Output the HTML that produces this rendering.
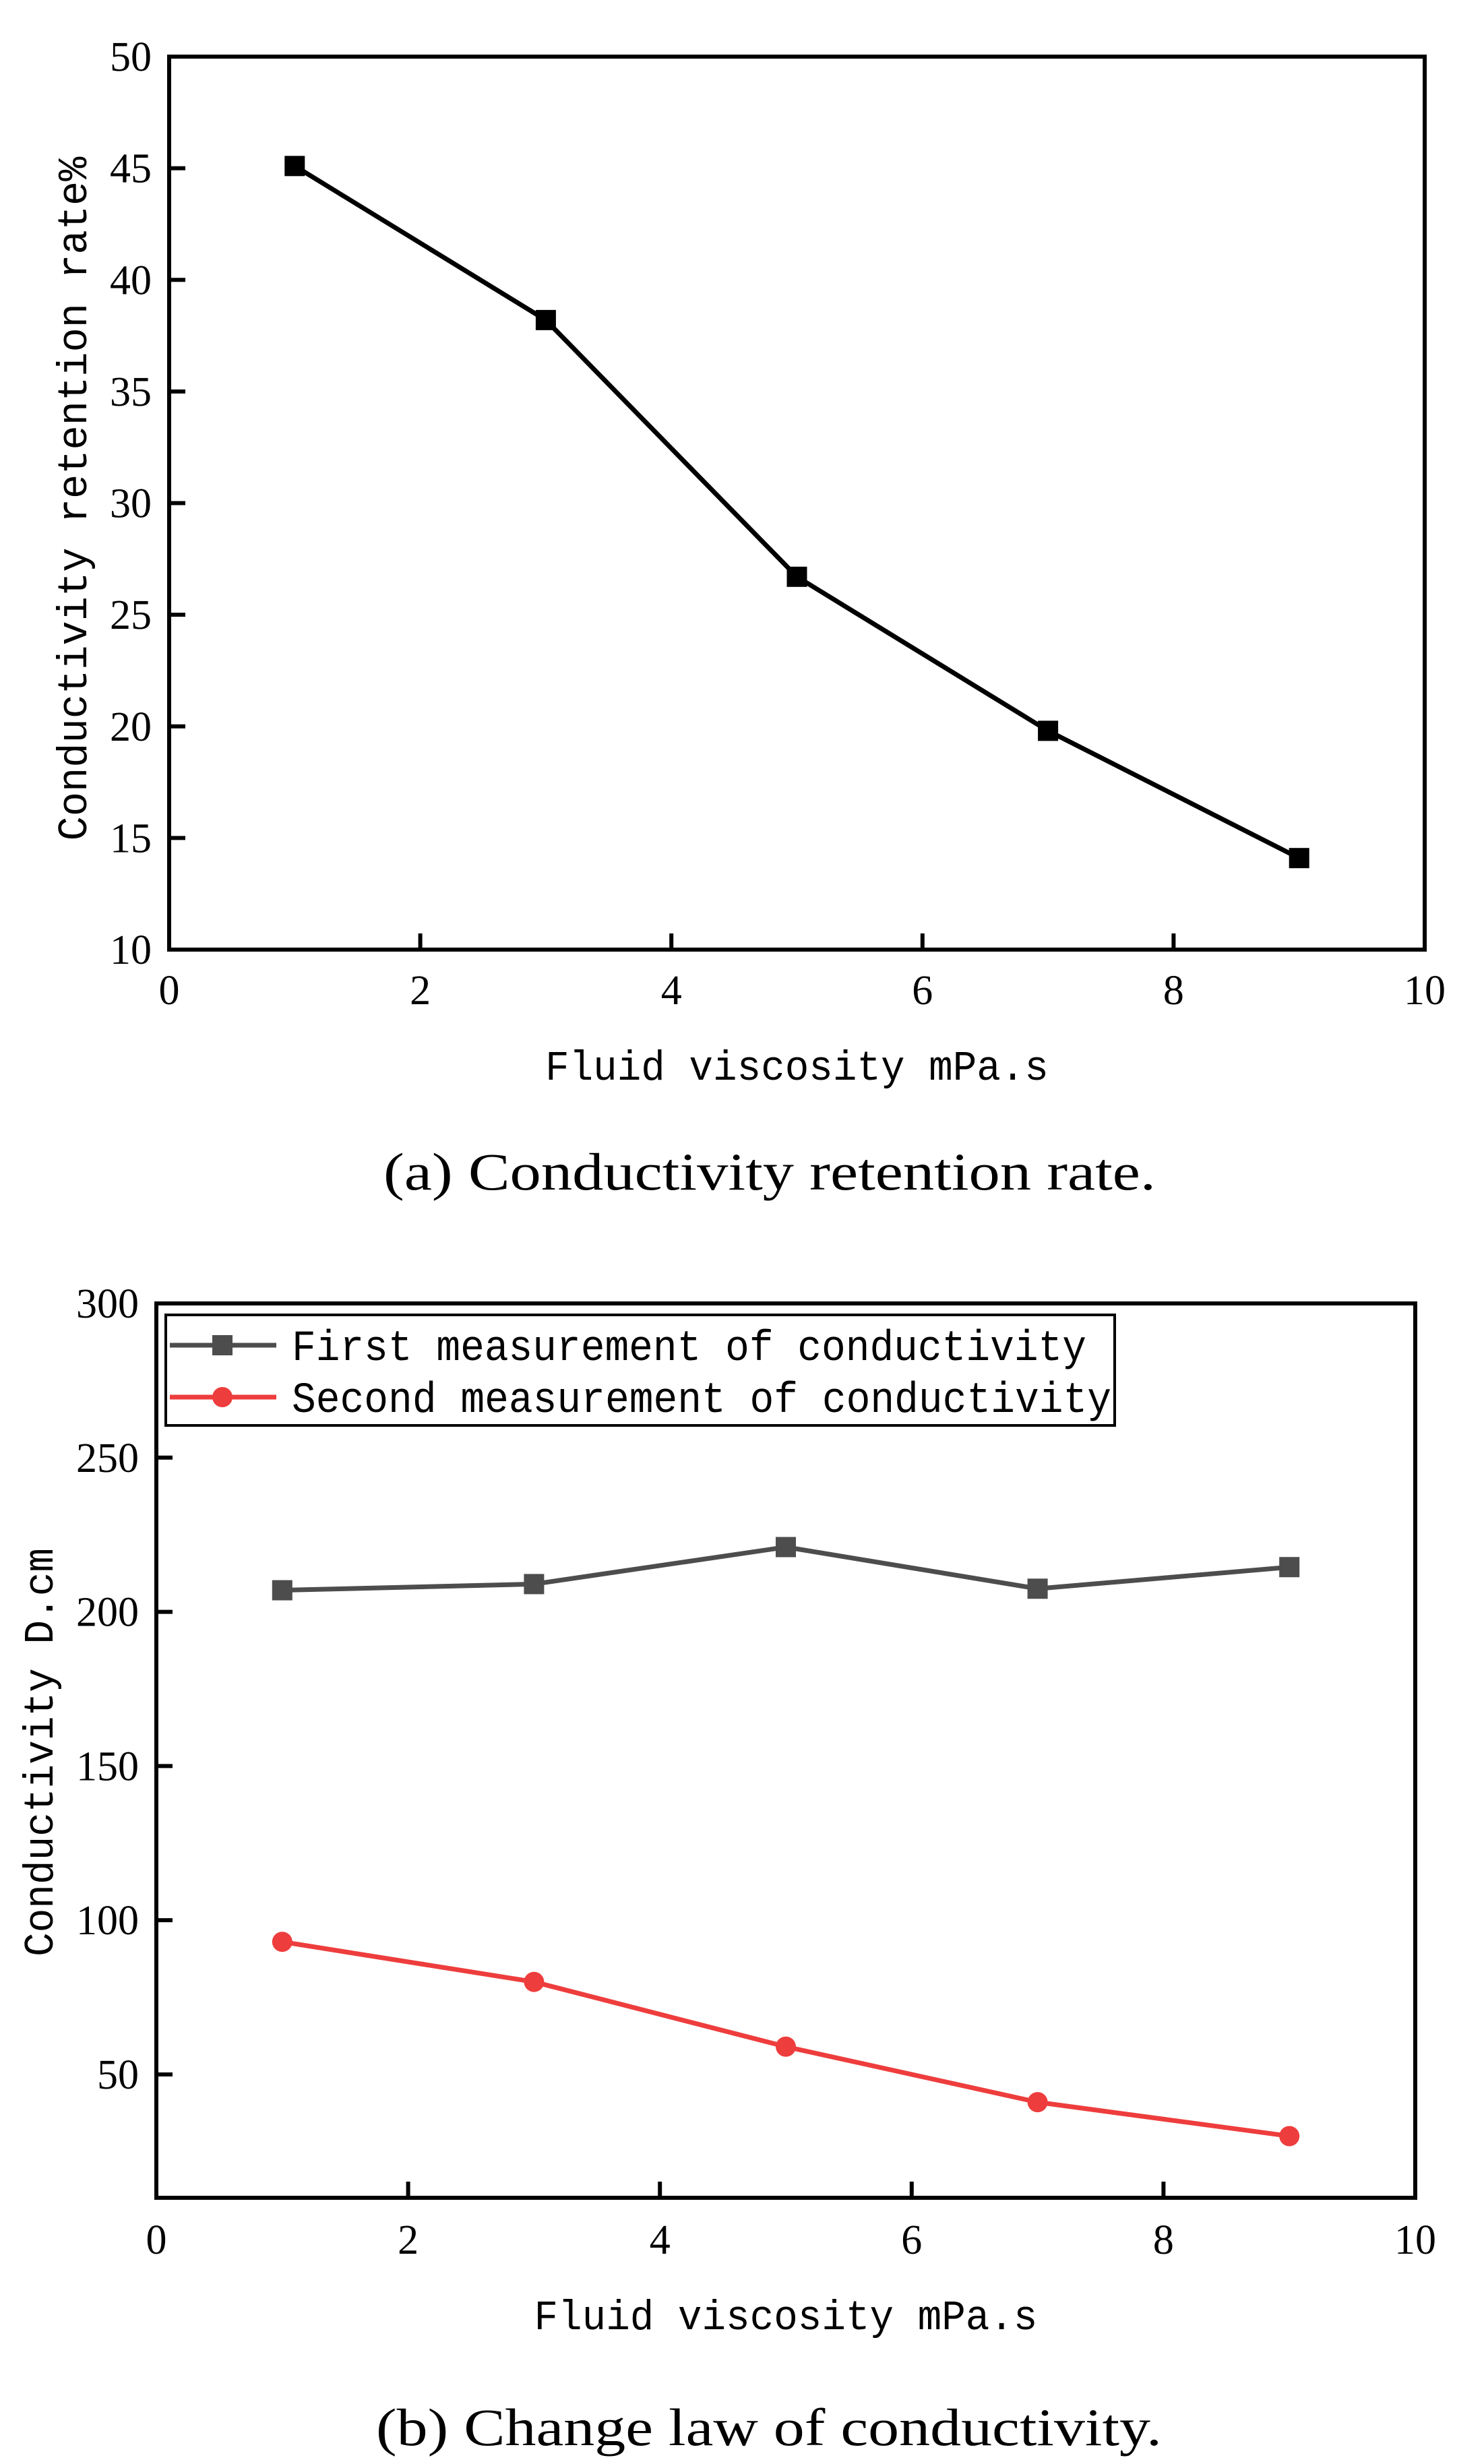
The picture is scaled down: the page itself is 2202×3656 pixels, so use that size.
<!DOCTYPE html>
<html><head><meta charset="utf-8"><style>
html,body{margin:0;padding:0;background:#fff;}
svg{display:block;}
.tk{font-family:"Liberation Serif",serif;font-size:62px;fill:#000;}
.mono{font-family:"Liberation Mono",monospace;fill:#000;}
.cap{font-family:"Liberation Serif",serif;font-size:78px;fill:#000;}
</style></head><body>
<svg id="fig" width="2202" height="3656" viewBox="0 0 2202 3656" xmlns="http://www.w3.org/2000/svg">
<rect width="2202" height="3656" fill="#fff"/>
<g id="chartA"></g>
<g id="chartB"></g>
<text class="cap" x="1142" y="1765" text-anchor="middle" textLength="1146" lengthAdjust="spacingAndGlyphs">(a) Conductivity retention rate.</text>
<text class="cap" x="1141" y="3628" text-anchor="middle" textLength="1166" lengthAdjust="spacingAndGlyphs">(b) Change law of conductivity.</text>
</svg>
<script>
const xValues = [1, 3, 5, 7, 9];
const retentionRate = [45.1, 38.2, 26.7, 19.8, 14.1];
const firstMeasurement = [207, 209, 221, 207.5, 214.5];
const secondMeasurement = [93, 80, 59, 41, 30];
const xTicks = [0, 2, 4, 6, 8, 10];
const yTicksA = [10, 15, 20, 25, 30, 35, 40, 45, 50];
const yTicksB = [50, 100, 150, 200, 250, 300];

const NS = "http://www.w3.org/2000/svg";
function mk(parent, tag, attrs, text) {
  const e = document.createElementNS(NS, tag);
  for (const k in attrs) e.setAttribute(k, attrs[k]);
  if (text !== undefined) e.textContent = text;
  parent.appendChild(e);
  return e;
}

function drawChart(g, box, xDom, yDom, yTicks, yTitle, yTitleBox, xTitleY, tickLabelY, series) {
  const sx = v => box.l + (v - xDom[0]) / (xDom[1] - xDom[0]) * (box.r - box.l);
  const sy = v => box.b - (v - yDom[0]) / (yDom[1] - yDom[0]) * (box.b - box.t);
  xTicks.forEach(t => {
    const x = sx(t);
    if (t !== xDom[0] && t !== xDom[1]) {
      const tk = mk(g, 'line', {x1: x, y1: box.b, x2: x, y2: box.b - 24, stroke: '#000', 'stroke-width': 6});
      
      
    }
    const lb = mk(g, 'text', {class: 'tk', x: x, y: tickLabelY, 'text-anchor': 'middle'}, String(t));
    
    
  });
  yTicks.forEach(t => {
    const y = sy(t);
    if (t !== yDom[0] && t !== yDom[1]) {
      const tk = mk(g, 'line', {x1: box.l, y1: y, x2: box.l + 24, y2: y, stroke: '#000', 'stroke-width': 6});
      
      
    }
    const lb = mk(g, 'text', {class: 'tk', x: box.l - 26, y: y + 21, 'text-anchor': 'end'}, String(t));
    
    
  });
  const frame = mk(g, 'rect', {x: box.l, y: box.t, width: box.r - box.l, height: box.b - box.t, fill: 'none', stroke: '#000', 'stroke-width': 6});
  
  
  const xt = mk(g, 'text', {class: 'mono', x: (box.l + box.r) / 2, y: xTitleY, 'text-anchor': 'middle', 'font-size': 62, textLength: 747, lengthAdjust: 'spacingAndGlyphs'}, 'Fluid viscosity mPa.s');
  
  
  const yt = mk(g, 'text', {class: 'mono', x: 0, y: 0, 'text-anchor': 'middle', 'font-size': 62, textLength: yTitleBox.len, lengthAdjust: 'spacingAndGlyphs', transform: `translate(${yTitleBox.x},${yTitleBox.y}) rotate(-90)`}, yTitle);
  
  
  series.forEach(s => {
    const pts = xValues.map((x, i) => sx(x) + ',' + sy(s.values[i])).join(' ');
    const pl = mk(g, 'polyline', {points: pts, fill: 'none', stroke: s.color, 'stroke-width': 7, 'stroke-linejoin': 'round'});
    
    
    xValues.forEach((x, i) => {
      let m;
      if (s.marker === 'square') {
        m = mk(g, 'rect', {x: sx(x) - 15, y: sy(s.values[i]) - 15, width: 30, height: 30, fill: s.color});
      } else {
        m = mk(g, 'circle', {cx: sx(x), cy: sy(s.values[i]), r: 15, fill: s.color});
      }
      
      
    });
  });
  return {sx, sy};
}

const gA = document.getElementById('chartA');
drawChart(gA, {l: 251, r: 2114, t: 84, b: 1409}, [0, 10], [10, 50], yTicksA,
  'Conductivity retention rate%', {x: 128, y: 740, len: 1015}, 1602, 1490,
  [{name: 'retention-rate', values: retentionRate, color: '#000', marker: 'square'}]);

const gB = document.getElementById('chartB');
drawChart(gB, {l: 232, r: 2100, t: 1934, b: 3261}, [0, 10], [10, 300], yTicksB,
  'Conductivity D.cm', {x: 78, y: 2600, len: 606}, 3456, 3344,
  [{name: 'first-measurement', values: firstMeasurement, color: '#4d4d4d', marker: 'square'},
   {name: 'second-measurement', values: secondMeasurement, color: '#ee3d3d', marker: 'circle'}]);

const leg = mk(gB, 'g', {});


const lb = mk(leg, 'rect', {x: 246, y: 1951, width: 1408, height: 164, fill: '#fff', stroke: '#000', 'stroke-width': 4});


const entries = [
  {label: 'First measurement of conductivity', color: '#4d4d4d', marker: 'square', y: 1996, len: 1179},
  {label: 'Second measurement of conductivity', color: '#ee3d3d', marker: 'circle', y: 2073, len: 1216}
];
entries.forEach(en => {
  const ln = mk(leg, 'line', {x1: 252, y1: en.y, x2: 410, y2: en.y, stroke: en.color, 'stroke-width': 7});
  
  
  let m;
  if (en.marker === 'square') m = mk(leg, 'rect', {x: 315, y: en.y - 15, width: 30, height: 30, fill: en.color});
  else m = mk(leg, 'circle', {cx: 330, cy: en.y, r: 15, fill: en.color});
  
  
  const t = mk(leg, 'text', {class: 'mono', x: 433, y: en.y + 22, 'font-size': 64, textLength: en.len, lengthAdjust: 'spacingAndGlyphs'}, en.label);
  
  
});
</script>
</body></html>
